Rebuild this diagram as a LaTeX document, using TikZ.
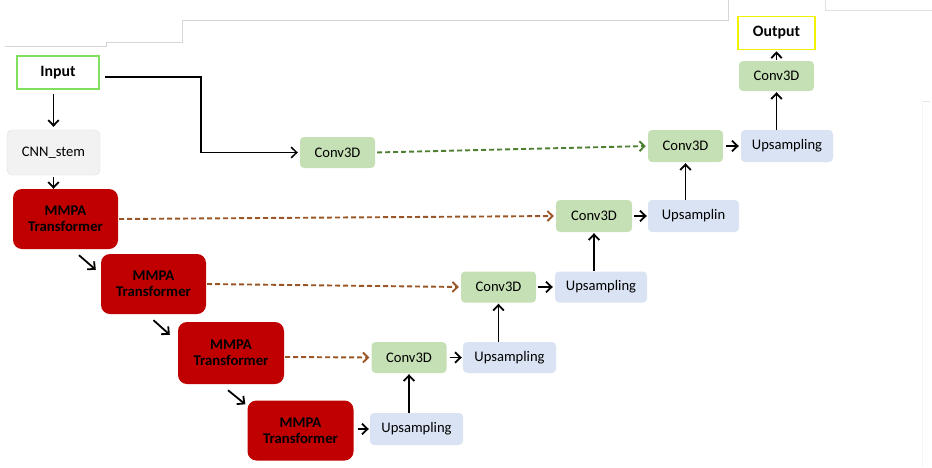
\documentclass[tikz,border=0pt]{standalone}
\usepackage{fontspec}
\setmainfont{Carlito}
\usetikzlibrary{arrows.meta,calc}

\definecolor{convgreen}{HTML}{C5E0B4}
\definecolor{upblue}{HTML}{DAE3F3}
\definecolor{mmpared}{HTML}{C00000}
\definecolor{stemgray}{HTML}{F2F2F2}
\definecolor{skipbrown}{HTML}{9A5526}
\definecolor{skipgreen}{HTML}{4F7F30}
\definecolor{inborder}{HTML}{7FE05F}
\definecolor{outborder}{HTML}{F2F200}
\definecolor{rule}{HTML}{D6D6D6}

\tikzset{
  base/.style={inner sep=0pt, align=center, font=\fontsize{14.6}{15}\selectfont},
  iobox/.style={base, draw, line width=1.6pt, fill=white,
    font=\fontsize{15.8}{17}\bfseries\selectfont},
  stembox/.style={base, fill=stemgray, draw=stemgray!80!gray, line width=0.3pt, rounded corners=5pt,
    minimum width=93pt, minimum height=45pt},
  mmpa/.style={base, fill=mmpared, rounded corners=9pt, minimum width=105pt, minimum height=60pt,
    font=\fontsize{14.8}{16}\bfseries\selectfont},
  conv/.style={base, fill=convgreen, rounded corners=4pt, minimum width=75pt, minimum height=31pt},
  upbox/.style={base, fill=upblue, rounded corners=4pt, minimum width=92pt, minimum height=32pt},
  arr/.style={line width=1.8pt, -{Straight Barb[length=5.5pt,width=10.5pt]}},
  skip/.style={line width=1.9pt, dash pattern=on 5pt off 3pt, -{Straight Barb[length=5pt,width=10pt]}},
  faint/.style={draw=rule, line width=1pt}
}

\begin{document}
\begin{tikzpicture}[x=1pt, y=-1pt]
  \useasboundingbox (0,0) rectangle (932,467);

  % leftover table rules along the top and right edge
  \draw[faint] (5,46) -- (106,46) -- (106,42) -- (182,42) -- (182,20) -- (728,20) -- (728,0);
  \draw[faint, draw=rule!70!white] (825,0) -- (825,10) -- (932,10);
  \draw[faint, draw=rule!60!white] (922,101) -- (930,101);
  \draw[faint, draw=rule!25!white] (922,101) -- (922,467);

  % encoder
  \node[iobox, draw=inborder, minimum width=82pt, minimum height=33pt] (in) at (58,72.5) {Input};
  \node[stembox] (stem) at (53.5,152.5) {CNN\_stem};
  \node[mmpa] (m1) at (65.5,219) {MMPA\\Transformer};
  \node[mmpa] (m2) at (153.5,284) {MMPA\\Transformer};
  \node[mmpa, minimum height=62pt, minimum width=106pt] (m3) at (231,353) {MMPA\\Transformer};
  \node[mmpa, minimum width=106pt] (m4) at (300.5,430.5) {MMPA\\Transformer};

  % decoder
  \node[upbox, minimum width=93pt] (u1) at (416.5,429) {Upsampling};
  \node[conv] (c1) at (409,357.5) {Conv3D};
  \node[upbox, minimum width=93pt, minimum height=31pt] (u2) at (509.5,357.5) {Upsampling};
  \node[conv] (c2) at (498.5,287) {Conv3D};
  \node[upbox, minimum height=31pt] (u3) at (601,287) {Upsampling};
  \node[conv, minimum height=32pt, minimum width=76pt] (c3) at (594,216) {Conv3D};
  \node[upbox, minimum width=91pt] (u4) at (693.5,216) {Upsamplin};
  \node[conv, minimum height=32pt] (c4) at (685.5,146) {Conv3D};
  \node[upbox] (u5) at (787,146) {Upsampling};
  \node[conv, minimum height=30pt] (c5) at (776.5,76) {Conv3D};
  \node[iobox, draw=outborder, minimum width=77pt, minimum height=33pt] (out) at (776.5,33) {Output};
  \node[conv] (c0) at (337.5,152.5) {Conv3D};

  % input branch
  \draw[arr, shorten <=4pt, shorten >=3pt] (stem |- in.south) -- (stem.north);
  \draw[arr, shorten <=2pt] (stem.south) -- (stem.south |- m1.north);
  \coordinate (bend) at (201,152.5);
  \draw[arr, line width=1.5pt, shorten >=2pt] ($(in.east)+(5,4.5)$) -| (bend) -- (c0.west);

  % encoder cascade
  \draw[arr] ($(m1.south)+(13.5,6)$) -- ($(m2.north west)+(-5,16)$);
  \draw[arr] ($(m2.south)+(0,6)$) -- ($(m3.north west)+(-8,13)$);
  \draw[arr] ($(m3.south)+(-3,6)$) -- ($(m4.north west)+(-2,4)$);

  % decoder path
  \draw[arr, shorten <=4pt, shorten >=1pt] (m4.east |- u1) -- (u1.west);
  \draw[arr, shorten >=1pt] (c1 |- u1.north) -- (c1.south);
  \draw[arr, shorten <=3pt, shorten >=1pt] (c1.east) -- (u2.west);
  \draw[arr, shorten >=1pt] (c2 |- u2.north) -- (c2.south);
  \draw[arr, shorten <=2pt, shorten >=2pt] (c2.east) -- (u3.west);
  \draw[arr, shorten >=1pt] (c3 |- u3.north) -- (c3.south);
  \draw[arr, shorten <=2pt, shorten >=1pt] (c3.east) -- (u4.west);
  \draw[arr, shorten >=1pt] (c4 |- u4.north) -- (c4.south);
  \draw[arr, shorten <=3pt, shorten >=2pt] (c4.east) -- (u5.west);
  \draw[arr, shorten >=1pt] (c5 |- u5.north) -- (c5.south);
  \draw[arr, shorten <=1pt, shorten >=1pt] (c5.north) -- (out.south);

  % skip connections
  \draw[skip, draw=skipgreen, shorten <=2pt, shorten >=2pt] (c0.east) -- (c4.west);
  \draw[skip, draw=skipbrown, shorten <=1pt, shorten >=2pt] (m1.east) -- (c3.west);
  \draw[skip, draw=skipbrown, shorten <=1pt, shorten >=2pt] (m2.east) -- (c2.west);
  \draw[skip, draw=skipbrown, shorten <=1pt, shorten >=2pt] ($(m3.east)+(0,4)$) -- (c1.west);
\end{tikzpicture}
\end{document}
